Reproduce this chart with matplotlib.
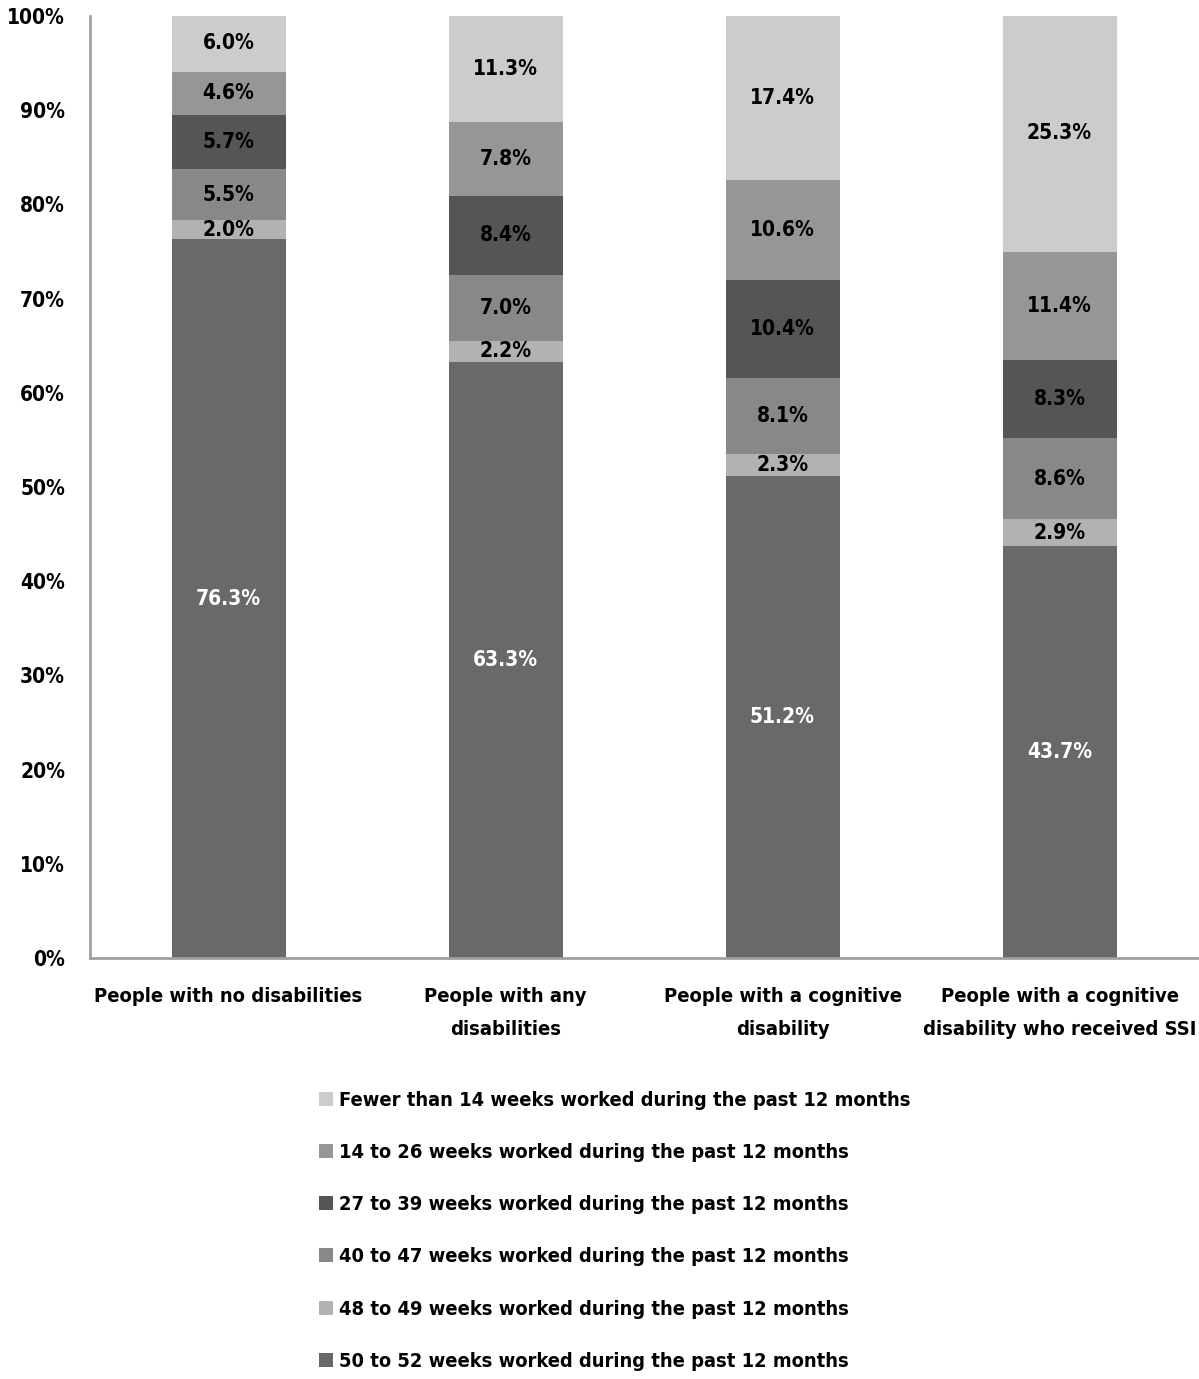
import matplotlib
matplotlib.use("Agg")
import matplotlib.pyplot as plt
from matplotlib import font_manager as fm
from matplotlib.patches import Patch

names = {f.name for f in fm.fontManager.ttflist}
fam = "Liberation Sans Narrow" if "Liberation Sans Narrow" in names else "DejaVu Sans"
plt.rcParams['font.family'] = [fam, 'DejaVu Sans']
plt.rcParams['font.weight'] = 'bold'
plt.rcParams['font.stretch'] = 'condensed'

categories = ["People with no disabilities", "People with any\ndisabilities",
              "People with a cognitive\ndisability", "People with a cognitive\ndisability who received SSI"]
series_names = ["50 to 52 weeks worked during the past 12 months",
                "48 to 49 weeks worked during the past 12 months",
                "40 to 47 weeks worked during the past 12 months",
                "27 to 39 weeks worked during the past 12 months",
                "14 to 26 weeks worked during the past 12 months",
                "Fewer than 14 weeks worked during the past 12 months"]
w50_52 = [76.3, 63.3, 51.2, 43.7]
w48_49 = [2.0, 2.2, 2.3, 2.9]
w40_47 = [5.5, 7.0, 8.1, 8.6]
w27_39 = [5.7, 8.4, 10.4, 8.3]
w14_26 = [4.6, 7.8, 10.6, 11.4]
w_lt14 = [6.0, 11.3, 17.4, 25.3]
series = [w50_52, w48_49, w40_47, w27_39, w14_26, w_lt14]
colors = ["#696969", "#b2b2b2", "#888888", "#555555", "#969696", "#cccccc"]
label_colors = ["white", "black", "black", "black", "black", "black"]
yticks = [0, 10, 20, 30, 40, 50, 60, 70, 80, 90, 100]

fs = 15
fig = plt.figure(figsize=(11.99, 13.79), dpi=100)
ax = fig.add_axes([0.0751, 0.3053, 0.9241, 0.6831])
x = list(range(len(categories)))
bottom = [0.0] * len(categories)
for vals, c, lc in zip(series, colors, label_colors):
    ax.bar(x, vals, bottom=bottom, width=0.4116, color=c, edgecolor='none')
    for i, v in enumerate(vals):
        ax.text(x[i], bottom[i] + v / 2, f"{v:.1f}%", ha='center', va='center',
                fontsize=fs, fontweight='bold', color=lc)
    bottom = [b + v for b, v in zip(bottom, vals)]

ax.set_xlim(-0.5, 3.5)
ax.set_ylim(0, 100)
ax.set_yticks(yticks)
ax.set_yticklabels([f"{t}%" for t in yticks], fontsize=fs, fontweight='bold')
ax.set_xticks(x)
ax.set_xticklabels(categories, fontsize=14.5, fontweight='bold', linespacing=1.9)
ax.tick_params(axis='x', length=0, pad=21)
ax.tick_params(axis='y', length=0, pad=18)
for s in ['top', 'right']:
    ax.spines[s].set_visible(False)
for s in ['left', 'bottom']:
    ax.spines[s].set_color('#a0a0a0')
    ax.spines[s].set_linewidth(2)

handles = [Patch(facecolor=c, edgecolor='none') for c in colors[::-1]]
fig.legend(handles, series_names[::-1], loc='upper left', bbox_to_anchor=(0.251, 0.222),
           frameon=False, prop={'family': [fam, 'DejaVu Sans'], 'weight': 'bold', 'size': 14.4,
                                'stretch': 'condensed'},
           handlelength=0.7, handleheight=0.7, handletextpad=0.3, labelspacing=1.66)

fig.savefig("out.png", dpi=100)
